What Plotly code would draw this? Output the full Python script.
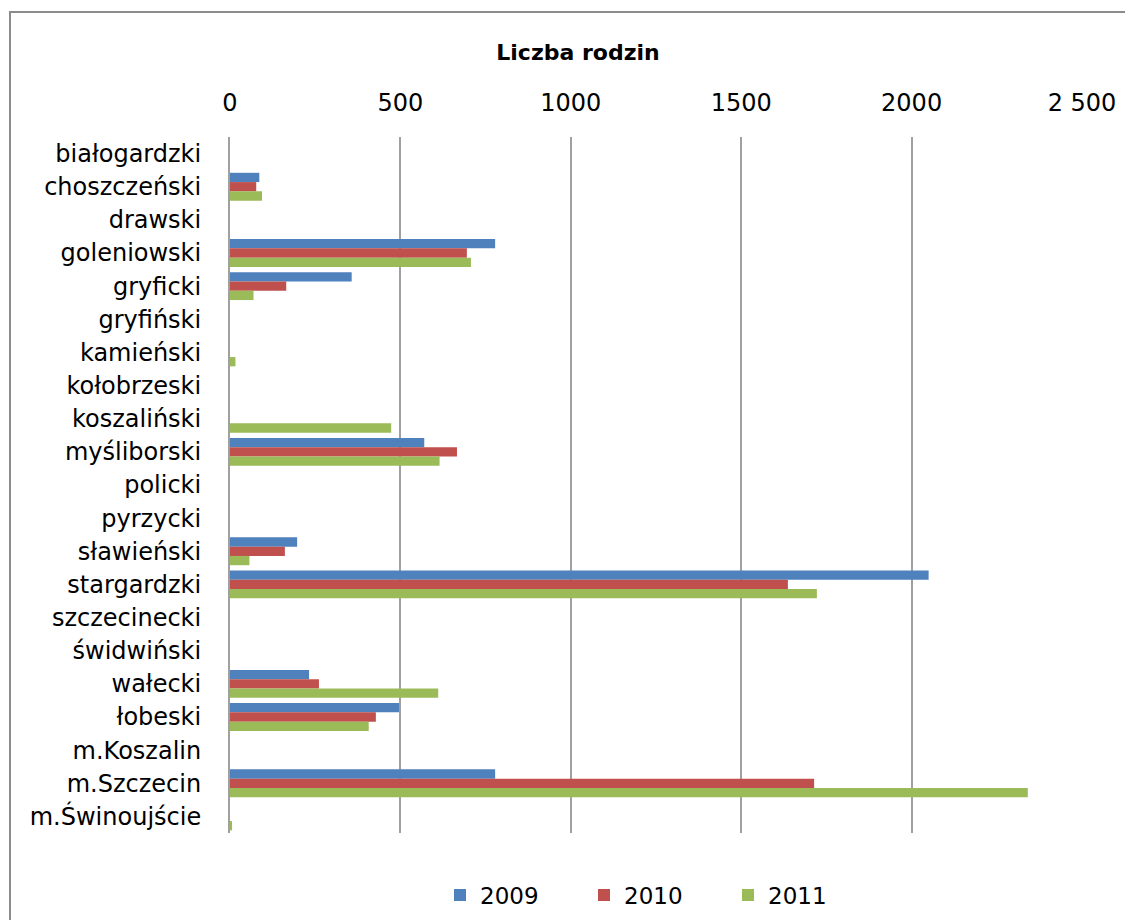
import plotly.graph_objects as go

categories = ["białogardzki", "choszczeński", "drawski", "goleniowski", "gryficki",
              "gryfiński", "kamieński", "kołobrzeski", "koszaliński", "myśliborski",
              "policki", "pyrzycki", "sławieński", "stargardzki", "szczecinecki",
              "świdwiński", "wałecki", "łobeski", "m.Koszalin", "m.Szczecin",
              "m.Świnoujście"]

v2009 = [0, 86, 0, 778, 357, 0, 0, 0, 0, 570, 0, 0, 197, 2050, 0, 0, 232, 496, 0, 778, 0]
v2010 = [0, 77, 0, 695, 165, 0, 0, 0, 0, 666, 0, 0, 161, 1637, 0, 0, 261, 428, 0, 1714, 0]
v2011 = [0, 94, 0, 707, 69, 0, 16, 0, 473, 615, 0, 0, 57, 1722, 0, 0, 611, 407, 0, 2341, 6]

series_names = ["2009", "2010", "2011"]
series_values = [v2009, v2010, v2011]
colors = ["#4F81BD", "#C0504D", "#9BBB59"]

tick_vals = [0, 500, 1000, 1500, 2000, 2500]
tick_text = ["0", "500", "1000", "1500", "2000", "2 500"]

FONT = "DejaVu Sans"

fig = go.Figure()
for name, vals, c in zip(series_names, series_values, colors):
    fig.add_trace(go.Bar(y=categories, x=vals, name=name, orientation="h",
                         marker=dict(color=c, line=dict(width=0))))

# page body has an 8px margin, so figure coords = screen coords - 8
OFF = 8
W, H = 1133, 920
L, T = 230 - OFF, 137 - OFF
pw, ph = 852, 696
R, B = W - L - pw, H - T - ph

def px2x(sx):
    return (sx - OFF - L) / pw

def py2y(sy):
    return (T + ph - (sy - OFF)) / ph

fig.update_layout(
    width=W, height=H,
    margin=dict(l=L, r=R, t=T, b=B, autoexpand=False),
    paper_bgcolor="white", plot_bgcolor="white",
    barmode="group", bargap=0.16, bargroupgap=0.0,
    font=dict(family=FONT, color="#000000"),
    title=dict(text="<b>Liczba rodzin</b>", x=(578 - OFF) / W, xref="container",
               y=1 - (52 - OFF) / H, yref="container", xanchor="center", yanchor="middle",
               font=dict(size=22, family=FONT, color="#000000")),
    legend=dict(orientation="h", x=px2x(440), y=py2y(895), xanchor="left",
                yanchor="middle", font=dict(size=23, family=FONT),
                entrywidth=99, entrywidthmode="pixels",
                traceorder="normal", bgcolor="rgba(0,0,0,0)"),
    showlegend=True,
)

fig.update_xaxes(side="top", range=[0, 2500], tickvals=tick_vals, ticktext=tick_text,
                 showgrid=True, gridcolor="#A0A0A0", gridwidth=2, zeroline=False,
                 showline=False, ticks="", tickfont=dict(size=24, family=FONT),
                 ticklabelstandoff=20, automargin=False, fixedrange=True)
fig.update_yaxes(autorange="reversed", showline=True, linecolor="#A0A0A0", linewidth=2,
                 showgrid=False, ticks="", tickfont=dict(size=24, family=FONT),
                 ticklabelstandoff=22, automargin=False, fixedrange=True)

# outer chart border
fig.add_shape(type="rect", xref="paper", yref="paper",
              x0=px2x(10), x1=px2x(1150), y0=py2y(940), y1=py2y(12),
              line=dict(color="#8C8C8C", width=2), fillcolor="rgba(0,0,0,0)", layer="below")

fig.write_html("out.html")
